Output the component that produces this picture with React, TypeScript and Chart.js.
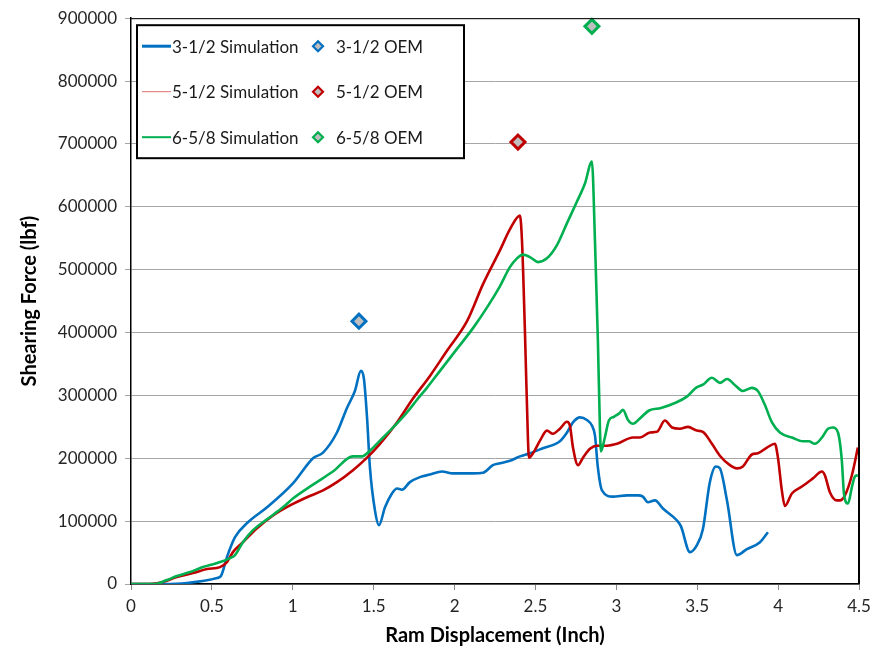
import React, { useEffect, useRef } from 'react';
import { Chart, registerables } from 'chart.js';

Chart.register(...registerables);

// ---------- data (Ram displacement [inch], shearing force [lbf]) ----------
const sim312: [number, number][] = [
  [0, 0], [0.198, 0], [0.346, 1600], [0.532, 9500], [0.556, 12700], [0.593, 42800],
  [0.643, 74500], [0.723, 98200], [0.841, 122000], [1.001, 160000], [1.125, 200000],
  [1.187, 209000], [1.273, 241000], [1.335, 280000], [1.384, 307000], [1.421, 339000],
  [1.44, 326000], [1.459, 265000], [1.477, 185000], [1.508, 117000], [1.533, 93500],
  [1.57, 122000], [1.613, 144000], [1.644, 152000], [1.675, 150000], [1.724, 162000],
  [1.786, 170000], [1.848, 174000], [1.922, 179000], [1.99, 176000], [2.114, 176000],
  [2.176, 177000], [2.237, 189000], [2.281, 192000], [2.342, 196000], [2.404, 203000],
  [2.466, 208000], [2.546, 216000], [2.651, 227000], [2.695, 241000], [2.732, 257000],
  [2.775, 265000], [2.818, 261000], [2.849, 252000], [2.868, 236000], [2.886, 185000],
  [2.911, 149000], [2.979, 139000], [3.066, 141000], [3.134, 141000], [3.164, 139000],
  [3.195, 130000], [3.239, 133000], [3.288, 120000], [3.375, 101000], [3.399, 92000],
  [3.455, 50700], [3.498, 61800], [3.535, 87100], [3.578, 162000], [3.615, 187000],
  [3.64, 184000], [3.684, 133000], [3.745, 46000], [3.807, 55500], [3.888, 66500],
  [3.937, 82400],
];

const sim512: [number, number][] = [
  [0, 0], [0.117, 0], [0.198, 3200], [0.284, 11100], [0.383, 17400], [0.47, 23800],
  [0.55, 26900], [0.593, 34900], [0.63, 50700], [0.692, 66500], [0.779, 88700],
  [0.878, 109000], [0.983, 125000], [1.088, 138000], [1.187, 149000], [1.273, 162000],
  [1.372, 181000], [1.459, 201000], [1.539, 223000], [1.644, 257000], [1.743, 295000],
  [1.848, 331000], [1.953, 371000], [2.077, 418000], [2.176, 477000], [2.281, 531000],
  [2.342, 564000], [2.404, 586000], [2.417, 545000], [2.435, 402000], [2.454, 228000],
  [2.46, 201000], [2.485, 208000], [2.528, 228000], [2.571, 244000], [2.608, 239000],
  [2.651, 247000], [2.695, 258000], [2.713, 252000], [2.732, 217000], [2.763, 189000],
  [2.794, 201000], [2.837, 215000], [2.88, 220000], [2.942, 220000], [3.004, 223000],
  [3.103, 233000], [3.146, 233000], [3.208, 241000], [3.251, 242000], [3.3, 260000],
  [3.344, 249000], [3.393, 247000], [3.443, 250000], [3.498, 244000], [3.535, 242000],
  [3.591, 223000], [3.64, 204000], [3.702, 189000], [3.745, 184000], [3.782, 187000],
  [3.838, 206000], [3.875, 208000], [3.931, 217000], [3.98, 223000], [3.999, 201000],
  [4.023, 149000], [4.042, 124000], [4.085, 144000], [4.147, 155000], [4.215, 168000],
  [4.271, 179000], [4.289, 173000], [4.32, 146000], [4.363, 133000], [4.382, 133000],
  [4.413, 141000], [4.456, 173000], [4.493, 217000],
];

const sim658: [number, number][] = [
  [0, 0], [0.148, 0], [0.222, 6300], [0.284, 12700], [0.365, 19000], [0.445, 26900],
  [0.532, 33300], [0.612, 41200], [0.643, 46000], [0.692, 66500], [0.754, 85600],
  [0.841, 103000], [0.939, 122000], [1.001, 136000], [1.125, 158000], [1.248, 179000],
  [1.372, 203000], [1.428, 203000], [1.477, 212000], [1.539, 228000], [1.613, 247000],
  [1.706, 273000], [1.774, 295000], [1.829, 312000], [1.91, 339000], [2.015, 374000],
  [2.114, 407000], [2.206, 442000], [2.281, 474000], [2.342, 504000], [2.386, 518000],
  [2.423, 524000], [2.478, 518000], [2.515, 512000], [2.571, 518000], [2.633, 539000],
  [2.695, 574000], [2.756, 608000], [2.806, 637000], [2.849, 672000], [2.868, 545000],
  [2.886, 387000], [2.899, 244000], [2.905, 211000], [2.929, 233000], [2.954, 260000],
  [2.985, 266000], [3.016, 271000], [3.041, 277000], [3.072, 261000], [3.103, 255000],
  [3.152, 265000], [3.202, 276000], [3.276, 280000], [3.362, 288000], [3.436, 298000],
  [3.492, 312000], [3.535, 317000], [3.591, 328000], [3.64, 320000], [3.684, 326000],
  [3.739, 315000], [3.782, 307000], [3.838, 312000], [3.875, 307000], [3.918, 285000],
  [3.962, 257000], [4.011, 241000], [4.085, 233000], [4.153, 227000], [4.19, 227000],
  [4.227, 223000], [4.271, 233000], [4.308, 247000], [4.339, 249000], [4.37, 241000],
  [4.394, 196000], [4.407, 144000], [4.432, 128000], [4.456, 154000], [4.475, 171000],
  [4.493, 173000],
];

const oem312: [number, number][] = [[1.409, 418000]];
const oem512: [number, number][] = [[2.392, 703000]];
const oem658: [number, number][] = [[2.849, 887000]];

const seriesNames = ['3-1/2', '5-1/2', '6-5/8'];
const xTitle = 'Ram Displacement (Inch)';
const yTitle = 'Shearing Force (lbf)';
const xMin = 0, xMax = 4.5, xStep = 0.5;
const yMin = 0, yMax = 900000, yStep = 100000;

// ---------- styles ----------
const FONT = 'Lato, "Open Sans", sans-serif';
const BLUE = '#0070C0';
const RED = '#C00000';
const GREEN = '#00B050';
const GRAY_FILL = '#BFBFBF';

const toXY = (a: [number, number][]) => a.map(([x, y]) => ({ x, y }));

const lineDs = (label: string, data: [number, number][], color: string) => ({
  label,
  data: toXY(data),
  showLine: true,
  borderColor: color,
  backgroundColor: color,
  borderWidth: 2.6,
  pointRadius: 0,
  cubicInterpolationMode: 'monotone' as const,
  fill: false,
});

const oemDs = (label: string, data: [number, number][], color: string) => ({
  label,
  data: toXY(data),
  showLine: false,
  pointStyle: 'rectRot' as const,
  pointRadius: 7,
  pointBorderWidth: 3,
  pointBorderColor: color,
  pointBackgroundColor: GRAY_FILL,
  clip: false as const,
});

const framePlugin = {
  id: 'frame',
  afterDatasetsDraw(chart: any) {
    const { ctx, chartArea: a } = chart;
    ctx.save();
    ctx.strokeStyle = '#000';
    ctx.lineWidth = 1;
    ctx.beginPath();
    ctx.moveTo(a.left, a.top + 0.5);
    ctx.lineTo(a.right, a.top + 0.5);
    ctx.stroke();
    ctx.lineWidth = 2;
    ctx.beginPath();
    ctx.moveTo(a.right, a.top);
    ctx.lineTo(a.right, a.bottom);
    ctx.stroke();
    ctx.restore();
  },
};

const legendPlugin = {
  id: 'boxLegend',
  afterDraw(chart: any) {
    const { ctx, chartArea: a } = chart;
    const bx = a.left + 6;
    const by = a.top + 7;
    const bw = 327;
    const bh = 133;
    ctx.save();
    ctx.fillStyle = '#fff';
    ctx.fillRect(bx, by, bw, bh);
    ctx.strokeStyle = '#000';
    ctx.lineWidth = 2;
    ctx.strokeRect(bx, by, bw, bh);

    const rows = [
      { name: seriesNames[0], color: BLUE, lw: 3, lc: BLUE },
      { name: seriesNames[1], color: RED, lw: 1, lc: '#E07070' },
      { name: seriesNames[2], color: GREEN, lw: 2, lc: GREEN },
    ];
    ctx.font = `17px ${FONT}`;
    ctx.textBaseline = 'middle';
    rows.forEach((r, i) => {
      const y = by + 21 + i * 45.5;
      ctx.strokeStyle = r.lc;
      ctx.lineWidth = r.lw;
      ctx.beginPath();
      ctx.moveTo(bx + 5, y);
      ctx.lineTo(bx + 34, y);
      ctx.stroke();
      ctx.fillStyle = '#1a1a1a';
      ctx.fillText(`${r.name} Simulation`, bx + 35, y + 1);
      const cx = bx + 181;
      const d = 5;
      ctx.beginPath();
      ctx.moveTo(cx - d, y);
      ctx.lineTo(cx, y - d);
      ctx.lineTo(cx + d, y);
      ctx.lineTo(cx, y + d);
      ctx.closePath();
      ctx.fillStyle = GRAY_FILL;
      ctx.fill();
      ctx.strokeStyle = r.color;
      ctx.lineWidth = 2.2;
      ctx.stroke();
      ctx.fillStyle = '#1a1a1a';
      ctx.fillText(`${r.name} OEM`, bx + 199, y + 1);
    });
    ctx.restore();
  },
};

export default function App() {
  const ref = useRef<HTMLCanvasElement>(null);

  useEffect(() => {
    const canvas = ref.current;
    if (!canvas) return;
    const chart = new Chart(canvas, {
      type: 'scatter',
      data: {
        datasets: [
          oemDs(`${seriesNames[0]} OEM`, oem312, BLUE),
          oemDs(`${seriesNames[1]} OEM`, oem512, RED),
          oemDs(`${seriesNames[2]} OEM`, oem658, GREEN),
          lineDs(`${seriesNames[2]} Simulation`, sim658, GREEN),
          lineDs(`${seriesNames[1]} Simulation`, sim512, RED),
          lineDs(`${seriesNames[0]} Simulation`, sim312, BLUE),
        ] as any,
      },
      options: {
        responsive: false,
        animation: false,
        layout: { padding: { top: 15, right: 27, left: 0, bottom: 0 } },
        plugins: {
          legend: { display: false },
          tooltip: { enabled: false },
        },
        scales: {
          x: {
            type: 'linear',
            min: xMin,
            max: xMax,
            ticks: {
              stepSize: xStep,
              font: { family: FONT, size: 17 },
              color: '#262626',
              padding: 6,
              callback: (v: any) => String(v),
            },
            grid: {
              drawOnChartArea: false,
              drawTicks: true,
              tickLength: 6,
              color: '#868686',
            },
            border: { color: '#000', width: 1.5 },
            title: {
              display: true,
              text: xTitle,
              font: { family: FONT, size: 20, weight: 'bold' },
              color: '#000',
              padding: { top: 0, bottom: 1 },
            },
            afterFit: (s: any) => {
              s.height = 65;
            },
          },
          y: {
            type: 'linear',
            min: yMin,
            max: yMax,
            ticks: {
              stepSize: yStep,
              font: { family: FONT, size: 17 },
              color: '#262626',
              padding: 8,
              callback: (v: any) => String(v),
            },
            grid: {
              color: '#A6A6A6',
              tickLength: 6,
              lineWidth: 1,
            },
            border: { color: '#000', width: 1.5 },
            title: {
              display: true,
              text: yTitle,
              font: { family: FONT, size: 20, weight: 'bold' },
              color: '#000',
              padding: { top: 18, bottom: 0 },
            },
            afterFit: (s: any) => {
              s.width = 131;
            },
          },
        },
      } as any,
      plugins: [framePlugin, legendPlugin],
    });
    return () => chart.destroy();
  }, []);

  return (
    <div
      style={{
        position: 'fixed',
        left: 0,
        top: 0,
        width: 886,
        height: 649,
        background: '#fff',
      }}
    >
      <canvas ref={ref} width={886} height={649} style={{ display: 'block', width: 886, height: 649 }} />
    </div>
  );
}
